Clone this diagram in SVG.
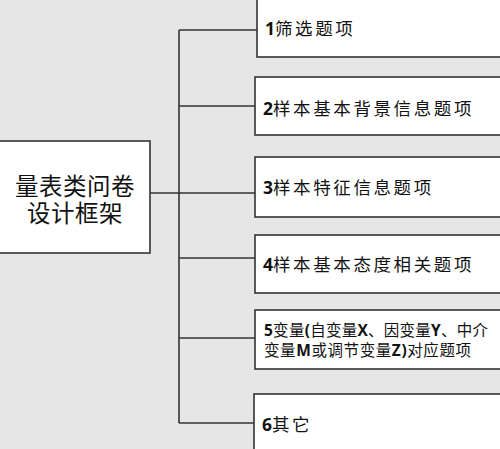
<svg xmlns="http://www.w3.org/2000/svg" width="500" height="449" viewBox="0 0 500 449">
<style>
.bg{fill:#e6e6e6}
.box{fill:#ffffff;stroke:#333333;stroke-width:1.6}
.conn{fill:none;stroke:#333333;stroke-width:1.6}
.t{font-family:"Noto Sans CJK SC","Liberation Sans",sans-serif;font-size:17.5px;fill:#111111;letter-spacing:2.6px}
.t5{font-family:"Noto Sans CJK SC","Liberation Sans",sans-serif;font-size:15.5px;fill:#111111}
.n{font-family:"Open Sans","Liberation Sans",sans-serif;font-weight:bold;letter-spacing:0}
.main{font-family:"Noto Sans CJK SC","Liberation Sans",sans-serif;font-size:23.5px;fill:#111111;text-anchor:middle;letter-spacing:0.5px}
</style>
<rect class="bg" x="0" y="0" width="500" height="449"/>
<g id="connectors">
<line class="conn" x1="179" y1="30" x2="179" y2="423"/>
<line class="conn" x1="179" y1="30" x2="257" y2="30"/>
<line class="conn" x1="179" y1="106" x2="255" y2="106"/>
<line class="conn" x1="150" y1="193" x2="255" y2="193"/>
<line class="conn" x1="179" y1="258" x2="255" y2="258"/>
<line class="conn" x1="179" y1="338" x2="255" y2="338"/>
<line class="conn" x1="179" y1="423" x2="254" y2="423"/>
</g>
<g id="root">
<rect class="box" x="-2" y="141" width="152" height="112"/>
<text class="main" x="75" y="195">量表类问卷</text>
<text class="main" x="75" y="222">设计框架</text>
</g>
<g id="n1">
<rect class="box" x="257" y="-5" width="260" height="62"/>
<text class="t" x="265" y="35"><tspan class="n">1</tspan>筛选题项</text>
</g>
<g id="n2">
<rect class="box" x="255" y="77" width="260" height="58"/>
<text class="t" x="263" y="115"><tspan class="n">2</tspan>样本基本背景信息题项</text>
</g>
<g id="n3">
<rect class="box" x="255" y="157" width="260" height="60"/>
<text class="t" x="263" y="194"><tspan class="n">3</tspan>样本特征信息题项</text>
</g>
<g id="n4">
<rect class="box" x="255" y="235" width="260" height="58"/>
<text class="t" x="263" y="271"><tspan class="n">4</tspan>样本基本态度相关题项</text>
</g>
<g id="n5">
<rect class="box" x="255" y="310" width="260" height="59"/>
<text class="t5" x="264" y="336" textLength="224" lengthAdjust="spacing"><tspan class="n">5</tspan>变量<tspan class="n">(</tspan>自变量<tspan class="n">X</tspan>、因变量<tspan class="n">Y</tspan>、中介</text>
<text class="t5" x="264" y="356" textLength="207" lengthAdjust="spacing">变量<tspan class="n">M</tspan>或调节变量<tspan class="n">Z)</tspan>对应题项</text>
</g>
<g id="n6">
<rect class="box" x="254" y="394" width="260" height="62"/>
<text class="t" x="262" y="431"><tspan class="n">6</tspan>其它</text>
</g>
</svg>
